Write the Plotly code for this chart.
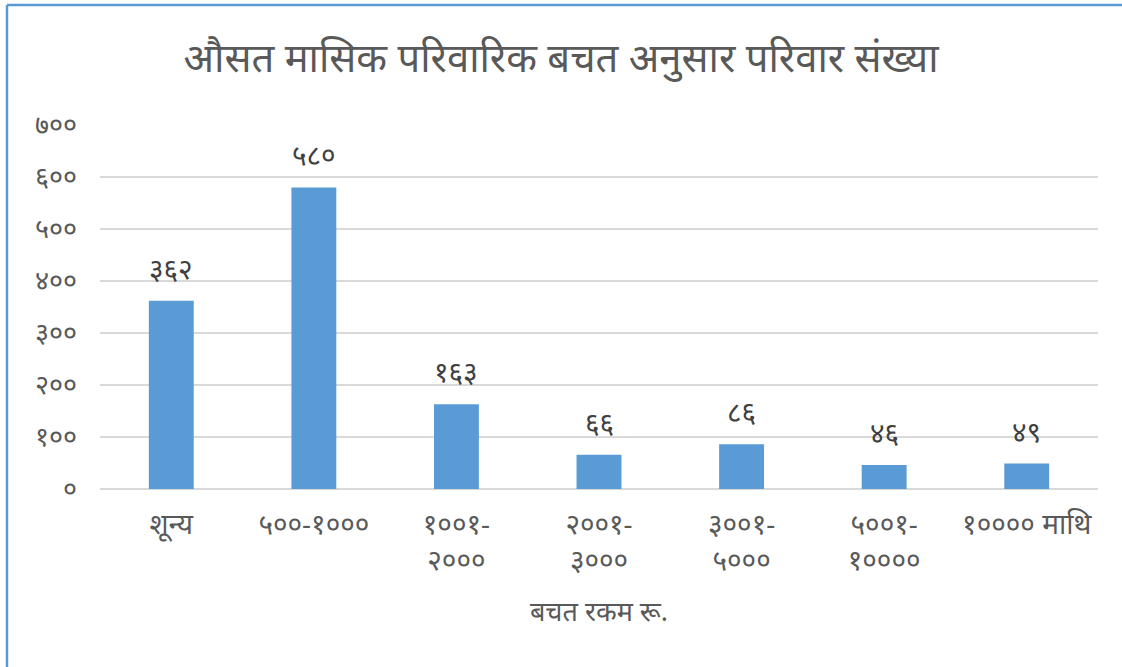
import plotly.graph_objects as go

categories = ["शून्य", "५००-१०००", "१००१-<br>२०००", "२००१-<br>३०००", "३००१-<br>५०००", "५००१-<br>१००००", "१०००० माथि"]
values = [362, 580, 163, 66, 86, 46, 49]
tick_vals = [0, 100, 200, 300, 400, 500, 600, 700]

DEV = str.maketrans("0123456789", "०१२३४५६७८९")
def dev(n):
    return str(n).translate(DEV)

FONT = "Noto Sans, Noto Sans Devanagari, Lohit Devanagari, sans-serif"
W, H = 1122, 667
ML, MT, MR, MB = 100, 125, 24, 178

fig = go.Figure(go.Bar(
    x=categories, y=values,
    marker=dict(color="#5B9BD5", line=dict(width=0)),
    hoverinfo="x+y",
))

for c, v in zip(categories, values):
    fig.add_annotation(x=c, y=v, text=dev(v), showarrow=False, yanchor="bottom", yshift=12,
                       font=dict(size=28, color="#404040", family=FONT))

pw = W - ML - MR
ph = H - MT - MB
def px_x(x):
    return (x - ML) / pw
def px_y(y):
    return (H - MB - y) / ph

fig.update_layout(
    width=W, height=H,
    margin=dict(l=ML, r=MR, t=MT, b=MB),
    paper_bgcolor="white", plot_bgcolor="white",
    font=dict(family=FONT, color="#595959"),
    bargap=0.685,
    showlegend=False,
    title=dict(text="औसत मासिक परिवारिक बचत अनुसार परिवार संख्या",
               x=0.5, xanchor="center", y=1 - 58 / H, yanchor="middle",
               font=dict(size=40, color="#595959", family=FONT)),
    xaxis=dict(showgrid=False, showline=False, ticks="", tickfont=dict(size=28, color="#595959"),
               ticklabelstandoff=16,
               title=dict(text="बचत रकम रू.", font=dict(size=27, color="#595959"), standoff=24)),
    yaxis=dict(range=[0, 700], tickvals=tick_vals, ticktext=[dev(v) for v in tick_vals],
               showgrid=True, gridcolor="#D9D9D9", gridwidth=1.5, zeroline=True,
               zerolinecolor="#D9D9D9", zerolinewidth=1.5, showline=False, ticks="",
               ticklabelstandoff=22,
               tickfont=dict(size=27, color="#595959")),
    shapes=[
        dict(type="line", xref="paper", yref="paper", x0=px_x(7), x1=px_x(W + 5), y0=px_y(5), y1=px_y(5),
             line=dict(color="#5B9BD5", width=2.5)),
        dict(type="line", xref="paper", yref="paper", x0=px_x(7), x1=px_x(7), y0=px_y(5), y1=px_y(H + 5),
             line=dict(color="#5B9BD5", width=2.5)),
    ],
)

fig.write_html("out.html", config={"displayModeBar": False},
               post_script="document.body.style.margin='0';")
